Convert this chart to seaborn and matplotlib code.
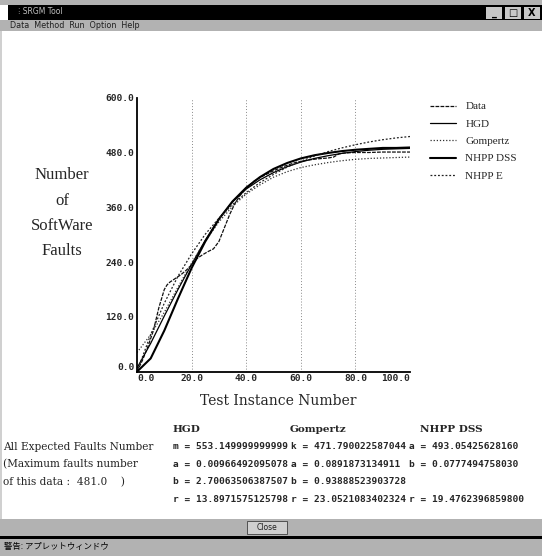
import numpy as np
import pandas as pd
import matplotlib
matplotlib.use("Agg")
import matplotlib.pyplot as plt
from matplotlib.patches import Rectangle
import seaborn as sns

# test instance grid for the fitted model curves
tModel = [0, 5, 10, 15, 20, 25, 30, 35, 40, 45, 50, 55, 60, 65, 70, 75, 80, 85, 90, 95, 100]
hgd = [8, 62, 122, 180, 235, 288, 335, 372, 400, 420, 436, 449, 459, 467, 473, 478, 482, 485, 487, 488, 489]
gompertz = [42, 81, 130, 185, 238, 286, 328, 362, 389, 409, 426, 438, 447, 453, 458, 462, 465, 467, 468, 469, 470]
nhppDss = [0, 29, 90, 160, 227, 285, 334, 373, 403, 426, 444, 457, 467, 474, 479, 483, 486, 488, 490, 490, 491]
nhppE = [0, 81, 150, 209, 258, 301, 336, 366, 392, 414, 432, 448, 461, 472, 482, 490, 497, 503, 508, 512, 515]

# observed cumulative faults
tData = [0, 2, 4, 6, 8, 9, 10, 11, 12, 14, 16, 18, 20, 22, 24, 26, 28, 30, 32, 34, 36, 38, 40,
         43, 46, 50, 54, 58, 62, 66, 70, 72, 74, 76, 80, 85, 90, 95, 100]
faults = [0, 25, 55, 90, 140, 160, 180, 190, 196, 204, 212, 222, 234, 248, 256, 263, 269, 285, 315, 345, 370, 388, 402,
          418, 428, 440, 450, 458, 463, 466, 468, 470, 477, 479, 480, 480, 481, 481, 481]

xTicks = [0, 20, 40, 60, 80, 100]
yTicks = [0, 120, 240, 360, 480, 600]

W, H = 542, 556

sns.set_style("white")
plt.rcParams['font.family'] = ['DejaVu Sans', 'Noto Sans CJK JP']


def box(x0, y0, x1, y1, color, **kw):
    # rectangle in screen pixels (top-left origin)
    fig.add_artist(Rectangle((x0 / W, 1 - y1 / H), (x1 - x0) / W, (y1 - y0) / H,
                             transform=fig.transFigure, facecolor=color, **kw))


def ptext(x, y, s, **kw):
    fig.text(x / W, 1 - y / H, s, va='center', **kw)


fig = plt.figure(figsize=(5.42, 5.56), dpi=100)
fig.patch.set_facecolor('white')

# window chrome
grey = '#b2b2b2'
box(0, 0, W, 5, grey, lw=0)
box(8, 5, W, 20, 'black', lw=0)
box(0, 20, W, 31, grey, lw=0)
box(0, 519, W, 536, grey, lw=0)
box(0, 536, W, 538.5, 'black', lw=0)
box(0, 538.5, W, H, grey, lw=0)
box(0, 31, 2, 519, '#d0d0d0', lw=0)
for bx, glyph in [(486, '_'), (505, '□'), (524, 'X')]:
    box(bx, 7, bx + 16, 19, '#c8c8c8', lw=0)
    ptext(bx + 8, 13, glyph, ha='center', fontsize=7, fontweight='bold', color='black')
ptext(18, 12, '⁝ SRGM Tool', fontsize=5.5, color='#c0c0c0')
ptext(10, 25.5, 'Data  Method  Run  Option  Help', fontsize=5.8, color='#202020')
box(247, 521, 287, 534, '#cfcfcf', lw=0.6, edgecolor='#404040')
ptext(267, 527.5, 'Close', ha='center', fontsize=5.5, color='#202020')
ptext(4, 547, '警告: アプレットウィンドウ', fontsize=6, color='black',
      family=['Noto Sans CJK JP', 'DejaVu Sans'])

# chart
ax = fig.add_axes([137 / W, 1 - 371.7 / H, 273 / W, 274 / H])
ax.set_facecolor('none')

series = [
    ('Data', tData, faults, '#101010', (0, (3, 1)), 0.9),
    ('HGD', tModel, hgd, 'black', '-', 0.9),
    ('Gompertz', tModel, gompertz, '#303030', (0, (1, 1.5)), 0.9),
    ('NHPP DSS', tModel, nhppDss, 'black', '-', 1.5),
    ('NHPP E', tModel, nhppE, '#202020', (0, (1.5, 1.5)), 0.9),
]
for name, xs, ys, col, ls, lw in series:
    df = pd.DataFrame({'t': xs, 'n': ys})
    sns.lineplot(data=df, x='t', y='n', ax=ax, color=col, linestyle=ls, lw=lw, label=name)

ax.set_xlim(0, 100)
ax.set_ylim(0, 600)
ax.set_xticks(xTicks)
ax.set_yticks(yTicks)
ax.set_xticklabels(['%.1f' % v for v in xTicks])
ax.set_yticklabels(['%.1f' % v for v in yTicks])
for v in xTicks[1:-1]:
    ax.axvline(v, color='#8a8a8a', lw=0.7, ls=(0, (1, 2)), zorder=0)
ax.tick_params(length=0, pad=2, labelsize=6.8)
for lab in ax.get_xticklabels() + ax.get_yticklabels():
    lab.set_family('DejaVu Sans Mono')
    lab.set_fontweight('bold')
xl = ax.get_xticklabels()
xl[0].set_ha('left')
xl[-1].set_ha('right')
ax.get_yticklabels()[0].set_va('bottom')
for s in ['top', 'right']:
    ax.spines[s].set_visible(False)
for s in ['left', 'bottom']:
    ax.spines[s].set_color('black')
    ax.spines[s].set_linewidth(1.3)
ax.set_xlabel('')
ax.set_ylabel('')

leg = ax.legend(loc='upper left', bbox_to_anchor=(1.052, 1.006), frameon=False,
                handlelength=2.4, handletextpad=0.8, labelspacing=0.68, borderpad=0,
                prop={'family': 'Liberation Serif', 'size': 8})

fig.text(278 / W, 1 - 401 / H, 'Test Instance Number', ha='center', va='center',
         family='DejaVu Serif', fontsize=10)
for s, yy in [('Number', 175), ('of', 201), ('SoftWare', 226), ('Faults', 251)]:
    ptext(62, yy, s, ha='center', family='Liberation Serif', fontsize=12)

# fitted parameters panel
for s, xx in [('HGD', 172), ('Gompertz', 290), ('NHPP DSS', 420)]:
    ptext(xx, 429, s, family='DejaVu Serif', fontweight='bold', fontsize=7.5)
rows = [
    ['m = 553.149999999999', 'k = 471.790022587044', 'a = 493.05425628160'],
    ['a = 0.00966492095078', 'a = 0.0891873134911', 'b = 0.0777494758030'],
    ['b = 2.70063506387507', 'b = 0.93888523903728', ''],
    ['r = 13.8971575125798', 'r = 23.0521083402324', 'r = 19.4762396859800'],
]
for i, row in enumerate(rows):
    yy = 446.5 + i * 17.7
    for s, xx in zip(row, [173, 291, 409]):
        ptext(xx, yy, s, family='DejaVu Sans Mono', fontweight='bold', fontsize=6.8)
for s, yy in [('All Expected Faults Number', 446.5), ('(Maximum faults number', 464.2),
              ('of this data :  481.0    )', 481.9)]:
    ptext(3, yy, s, family='DejaVu Serif', fontsize=7.6)

fig.savefig('out.png', dpi=100)
